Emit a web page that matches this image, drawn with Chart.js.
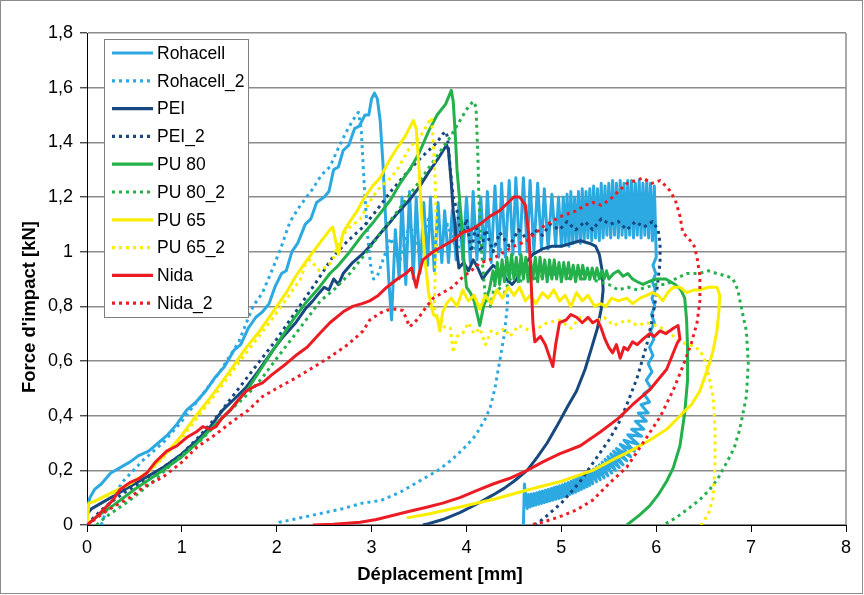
<!DOCTYPE html>
<html>
<head>
<meta charset="utf-8">
<script src="https://cdn.jsdelivr.net/npm/chart.js@4.4.0/dist/chart.umd.min.js"></script>
<style>
  html, body { margin: 0; padding: 0; background: #fff; }
</style>
</head>
<body>
<canvas id="myChart" width="864" height="595"></canvas>
<script>
// tick values
const xTicks = [0, 1, 2, 3, 4, 5, 6, 7, 8];
const yTicks = [0, 0.2, 0.4, 0.6, 0.8, 1, 1.2, 1.4, 1.6, 1.8];
const xTitle = 'Déplacement [mm]';
const yTitle = "Force d'impact [kN]";

const seriesNames = ['Rohacell', 'Rohacell_2', 'PEI', 'PEI_2', 'PU 80', 'PU 80_2', 'PU 65', 'PU 65_2', 'Nida', 'Nida_2'];
const seriesColors = ['#2CA9E1', '#2CA9E1', '#17487F', '#17487F', '#24B04A', '#24B04A', '#FAED00', '#FAED00', '#EC1C24', '#EC1C24'];
const seriesDotted = [false, true, false, true, false, true, false, true, false, true];

// [displacement mm, force kN]
const rohacell = [
  [0,0.05],[0.03,0.1],[0.08,0.13],[0.15,0.15],[0.25,0.19],[0.35,0.21],[0.45,0.23],[0.55,0.255],[0.65,0.27],
  [0.75,0.3],[0.85,0.33],[0.95,0.37],[1.05,0.42],[1.15,0.45],[1.25,0.49],[1.35,0.54],[1.45,0.58],[1.55,0.64],
  [1.62,0.66],[1.7,0.72],[1.78,0.76],[1.85,0.78],[1.92,0.81],[1.98,0.87],[2.05,0.92],[2.1,0.93],[2.16,1.0],
  [2.22,1.03],[2.3,1.1],[2.36,1.12],[2.42,1.18],[2.5,1.2],[2.55,1.22],[2.6,1.3],[2.65,1.31],[2.7,1.37],
  [2.76,1.39],[2.82,1.45],[2.87,1.46],[2.93,1.5],[2.97,1.5],[3.0,1.56],[3.03,1.58],[3.06,1.56],[3.09,1.48],
  [3.12,1.32],[3.15,1.1],[3.18,0.9],[3.21,0.75],
  [3.25,1.08],[3.29,0.9],[3.32,1.2],[3.36,0.88],[3.4,1.22],[3.44,0.9],[3.47,1.2],[3.51,0.92],[3.55,1.18],
  [3.59,0.95],[3.62,1.2],[3.66,0.93],[3.7,1.18],[3.74,0.96],[3.77,1.15],[3.81,0.96],[3.85,1.15],[3.89,0.97],
  [3.92,1.18],[3.96,0.97],[4.0,1.2],[4.04,0.96],[4.07,1.22],[4.11,0.97],[4.15,1.2],[4.19,0.97],[4.22,1.22],
  [4.26,0.96],[4.3,1.24],[4.34,0.98],[4.37,1.25],[4.41,0.98],[4.45,1.26],[4.49,0.99],[4.52,1.27],[4.56,0.99],
  [4.6,1.27],[4.64,1.0],[4.67,1.26],[4.71,1.0],[4.75,1.25],[4.79,1.01],[4.82,1.23],[4.86,1.01],[4.9,1.21],
  [4.94,1.02],[4.97,1.2],
  [5.0,1.02],[5.02,1.2],[5.04,1.03],[5.06,1.21],[5.08,1.02],[5.1,1.22],[5.12,1.03],[5.14,1.2],[5.16,1.04],
  [5.18,1.22],[5.2,1.03],[5.22,1.23],[5.24,1.04],[5.26,1.22],[5.28,1.05],[5.3,1.23],[5.32,1.04],[5.34,1.24],
  [5.36,1.05],[5.38,1.23],[5.4,1.04],[5.42,1.25],[5.44,1.05],[5.46,1.24],[5.48,1.06],[5.5,1.25],[5.52,1.05],
  [5.54,1.26],[5.56,1.06],[5.58,1.25],[5.6,1.05],[5.62,1.26],[5.64,1.06],[5.66,1.25],[5.68,1.05],[5.7,1.26],
  [5.72,1.06],[5.74,1.26],[5.76,1.05],[5.78,1.25],[5.8,1.06],[5.82,1.26],[5.84,1.05],[5.86,1.25],[5.88,1.06],
  [5.9,1.26],[5.92,1.05],[5.94,1.25],[5.96,1.04],[5.98,1.24],
  [6.0,0.98],[5.965,0.95],[5.995,0.92],[5.96,0.89],[5.99,0.86],[5.955,0.83],[5.985,0.8],[5.95,0.77],[5.98,0.74],
  [5.94,0.71],[5.975,0.68],[5.93,0.65],[5.965,0.62],[5.915,0.59],[5.955,0.56],[5.895,0.53],[5.945,0.5],[5.87,0.48],
  [5.93,0.45],[5.84,0.44],[5.915,0.41],[5.81,0.41],[5.895,0.38],[5.78,0.38],[5.87,0.35],[5.74,0.35],[5.845,0.325],
  [5.7,0.33],[5.81,0.295],[5.66,0.31],[5.77,0.27],
  [5.62,0.295],[5.73,0.25],[5.58,0.28],[5.69,0.235],[5.55,0.27],[5.65,0.22],[5.52,0.26],[5.61,0.21],[5.49,0.25],
  [5.57,0.2],[5.46,0.24],[5.53,0.19],[5.43,0.23],[5.49,0.18],[5.4,0.22],[5.45,0.172],[5.37,0.213],[5.41,0.165],
  [5.34,0.205],[5.37,0.158],[5.31,0.198],[5.33,0.151],[5.28,0.191],[5.3,0.145],[5.25,0.185],[5.27,0.14],
  [5.22,0.18],[5.24,0.135],[5.19,0.175],[5.21,0.13],[5.16,0.17],[5.18,0.125],[5.13,0.165],[5.15,0.12],[5.1,0.16],
  [5.12,0.116],[5.07,0.155],[5.09,0.112],[5.04,0.151],[5.06,0.108],[5.01,0.147],[5.03,0.104],[4.98,0.143],
  [5.0,0.1],[4.95,0.14],[4.97,0.097],[4.92,0.137],[4.94,0.094],[4.89,0.133],[4.91,0.091],[4.86,0.13],[4.88,0.088],
  [4.83,0.127],[4.85,0.085],[4.8,0.124],[4.82,0.082],[4.77,0.121],[4.79,0.079],[4.74,0.118],[4.76,0.076],
  [4.71,0.115],[4.73,0.073],[4.68,0.113],[4.7,0.07],[4.65,0.111],[4.67,0.066],[4.63,0.11],[4.64,0.06],[4.61,0.15],[4.6,0]
];
const rohacell2 = [
  [0.15,0],[0.2,0.05],[0.27,0.1],[0.38,0.16],[0.6,0.24],[0.8,0.3],[1.0,0.38],[1.2,0.47],[1.4,0.56],[1.6,0.67],
  [1.75,0.8],[1.85,0.85],[1.96,0.94],[2.05,1.02],[2.14,1.11],[2.25,1.17],[2.38,1.23],[2.47,1.28],[2.56,1.31],
  [2.65,1.38],[2.75,1.45],[2.82,1.49],[2.86,1.51],[2.89,1.45],[2.91,1.32],[2.93,1.2],[2.96,1.05],[2.99,0.95],
  [3.02,0.9],[3.06,0.91],[3.1,0.95],[3.2,1.05],[3.3,0.97],[3.4,1.1],[3.5,1.0],[3.6,1.12],[3.7,1.0],[3.8,1.1],
  [3.9,1.0],[4.0,1.1],[4.1,1.0],[4.2,1.1],[4.3,1.02],[4.4,1.0],[4.44,0.93],[4.43,0.8],[4.4,0.7],[4.35,0.6],
  [4.3,0.5],[4.25,0.43],[4.2,0.39],[4.1,0.33],[4.0,0.29],[3.85,0.24],[3.7,0.2],[3.5,0.16],[3.3,0.12],[3.1,0.09],
  [2.9,0.08],[2.7,0.06],[2.5,0.045],[2.3,0.03],[2.1,0.015],[2.03,0.01],[2.0,0]
];
const pei = [
  [0,0.04],[0.05,0.06],[0.15,0.08],[0.3,0.11],[0.45,0.14],[0.6,0.17],[0.8,0.21],[1.0,0.26],[1.16,0.31],[1.3,0.36],
  [1.43,0.42],[1.55,0.46],[1.68,0.505],[1.8,0.56],[1.96,0.64],[2.07,0.69],[2.2,0.74],[2.3,0.79],[2.38,0.82],
  [2.45,0.85],[2.5,0.87],[2.55,0.86],[2.6,0.9],[2.65,0.88],[2.7,0.92],[2.8,0.96],[2.9,0.99],[2.98,1.02],[3.1,1.07],
  [3.2,1.11],[3.27,1.14],[3.4,1.19],[3.51,1.24],[3.6,1.29],[3.7,1.34],[3.79,1.39],[3.81,1.37],[3.84,1.25],
  [3.86,1.15],[3.88,1.1],[3.9,1.0],[3.92,0.94],[3.97,0.96],[4.02,0.93],[4.07,0.97],[4.12,0.94],[4.17,0.9],
  [4.21,0.92],[4.28,0.95],[4.35,0.93],[4.42,0.9],[4.48,0.88],[4.53,0.9],[4.6,0.95],[4.65,0.97],[4.7,0.99],
  [4.8,1.01],[4.9,1.02],[5.0,1.02],[5.1,1.03],[5.2,1.04],[5.3,1.03],[5.36,1.02],[5.4,0.99],[5.43,0.93],
  [5.44,0.86],[5.42,0.79],[5.38,0.72],[5.32,0.65],[5.25,0.57],[5.16,0.49],[5.06,0.43],[4.95,0.36],[4.85,0.3],
  [4.75,0.25],[4.64,0.2],[4.5,0.16],[4.4,0.135],[4.28,0.11],[4.1,0.075],[3.93,0.045],[3.75,0.02],[3.6,0.005],[3.54,0]
];
const pei2 = [
  [0.05,0.02],[0.2,0.07],[0.4,0.12],[0.6,0.16],[0.8,0.21],[1.0,0.26],[1.2,0.33],[1.4,0.41],[1.6,0.5],[1.8,0.59],
  [2.0,0.68],[2.2,0.78],[2.4,0.88],[2.59,0.98],[2.75,1.04],[2.91,1.09],[3.05,1.15],[3.2,1.22],[3.3,1.26],[3.4,1.3],
  [3.51,1.34],[3.6,1.37],[3.69,1.4],[3.75,1.43],[3.78,1.44],[3.8,1.42],[3.83,1.3],[3.86,1.2],[3.9,1.15],[3.95,1.05],
  [4.0,1.12],[4.05,1.0],[4.1,1.1],[4.15,1.0],[4.2,1.08],[4.28,1.0],[4.35,1.07],[4.45,1.02],[4.55,1.08],[4.65,1.04],
  [4.72,1.08],[4.8,1.06],[4.88,1.1],[4.98,1.08],[5.06,1.11],[5.15,1.08],[5.25,1.11],[5.33,1.08],[5.42,1.12],
  [5.51,1.1],[5.6,1.11],[5.69,1.08],[5.78,1.11],[5.87,1.09],[5.96,1.11],[6.02,1.08],[6.04,1.03],[6.04,0.96],
  [6.0,0.84],[5.95,0.74],[5.9,0.66],[5.8,0.54],[5.69,0.44],[5.6,0.37],[5.5,0.31],[5.4,0.26],[5.3,0.21],[5.2,0.16],
  [5.1,0.12],[5.0,0.08],[4.9,0.05],[4.8,0.02],[4.72,0]
];
const pu80 = [
  [0,0],[0.1,0.03],[0.27,0.07],[0.5,0.13],[0.8,0.2],[1.0,0.25],[1.16,0.3],[1.3,0.35],[1.51,0.42],[1.7,0.5],
  [1.85,0.58],[2.0,0.66],[2.17,0.75],[2.3,0.81],[2.45,0.87],[2.56,0.92],[2.65,0.95],[2.77,1.0],[2.9,1.06],[3.0,1.1],
  [3.09,1.14],[3.2,1.19],[3.3,1.25],[3.4,1.3],[3.5,1.36],[3.6,1.44],[3.69,1.5],[3.78,1.54],[3.84,1.59],[3.86,1.55],
  [3.88,1.44],[3.9,1.3],[3.92,1.22],[3.95,1.1],[3.97,0.98],[4.0,0.87],[4.04,0.85],[4.08,0.82],[4.12,0.76],[4.14,0.73],
  [4.18,0.8],[4.24,0.86],[4.28,0.93],[4.3,0.88],[4.325,0.96],[4.35,0.88],[4.375,0.97],[4.4,0.89],[4.425,0.98],
  [4.45,0.9],[4.475,0.99],[4.5,0.9],[4.525,0.98],[4.55,0.89],[4.575,0.99],[4.6,0.9],[4.625,0.98],[4.65,0.89],
  [4.675,0.97],[4.7,0.9],[4.725,0.98],[4.75,0.89],[4.775,0.98],[4.8,0.9],[4.825,0.97],[4.85,0.89],[4.875,0.97],
  [4.9,0.9],[4.925,0.97],[4.95,0.9],[4.975,0.96],[5.0,0.89],[5.025,0.96],[5.05,0.9],[5.075,0.96],[5.1,0.9],
  [5.125,0.95],[5.15,0.89],[5.175,0.95],[5.2,0.9],[5.225,0.95],[5.25,0.9],[5.275,0.94],[5.3,0.9],[5.325,0.94],
  [5.35,0.9],[5.375,0.94],[5.4,0.9],[5.425,0.93],[5.45,0.9],[5.475,0.93],[5.5,0.9],[5.55,0.92],[5.6,0.93],
  [5.65,0.91],[5.7,0.92],[5.75,0.9],[5.8,0.89],[5.86,0.88],[5.92,0.89],[6.0,0.9],[6.1,0.9],[6.2,0.88],[6.26,0.86],
  [6.3,0.83],[6.32,0.75],[6.33,0.65],[6.33,0.53],[6.3,0.41],[6.25,0.29],[6.18,0.21],[6.11,0.16],[6.02,0.11],
  [5.93,0.07],[5.82,0.035],[5.69,0]
];
const pu80b = [
  [0.1,0],[0.2,0.03],[0.45,0.09],[0.7,0.16],[0.98,0.25],[1.2,0.31],[1.51,0.42],[1.7,0.48],[1.85,0.54],[2.0,0.61],
  [2.2,0.7],[2.46,0.82],[2.6,0.86],[2.77,0.92],[2.95,1.0],[3.12,1.08],[3.3,1.16],[3.51,1.26],[3.65,1.33],[3.83,1.42],
  [4.0,1.52],[4.07,1.55],[4.1,1.53],[4.12,1.35],[4.13,1.2],[4.15,1.05],[4.17,0.95],[4.2,0.83],[4.25,0.8],[4.3,0.88],
  [4.4,0.85],[4.5,0.93],[4.56,0.88],[4.6,0.92],[4.7,0.9],[4.9,0.92],[5.1,0.9],[5.3,0.9],[5.5,0.88],[5.6,0.86],
  [5.7,0.87],[5.8,0.86],[5.9,0.87],[6.0,0.88],[6.11,0.88],[6.2,0.9],[6.32,0.92],[6.45,0.92],[6.55,0.93],[6.64,0.92],
  [6.75,0.91],[6.81,0.9],[6.86,0.86],[6.9,0.79],[6.95,0.71],[6.97,0.59],[6.95,0.47],[6.88,0.35],[6.82,0.28],
  [6.74,0.227],[6.65,0.17],[6.56,0.128],[6.45,0.09],[6.32,0.055],[6.2,0.025],[6.11,0.007],[6.08,0]
];
const pu65 = [
  [0,0],[0.02,0.08],[0.1,0.09],[0.27,0.12],[0.45,0.15],[0.63,0.19],[0.8,0.25],[0.98,0.32],[1.15,0.4],[1.33,0.48],
  [1.5,0.56],[1.68,0.65],[1.82,0.71],[1.96,0.78],[2.1,0.85],[2.2,0.91],[2.32,0.97],[2.45,1.03],[2.56,1.08],[2.59,1.09],
  [2.62,1.04],[2.65,0.99],[2.7,1.07],[2.77,1.11],[2.85,1.15],[2.91,1.19],[3.01,1.24],[3.09,1.27],[3.18,1.33],
  [3.27,1.38],[3.35,1.42],[3.44,1.48],[3.47,1.45],[3.5,1.3],[3.53,1.12],[3.56,0.98],[3.6,0.85],[3.65,0.77],
  [3.69,0.76],[3.72,0.71],[3.75,0.78],[3.79,0.81],[3.84,0.83],[3.9,0.8],[3.96,0.86],[4.02,0.82],[4.08,0.84],
  [4.14,0.79],[4.2,0.84],[4.26,0.81],[4.32,0.86],[4.38,0.83],[4.44,0.87],[4.5,0.84],[4.56,0.87],[4.62,0.82],
  [4.67,0.84],[4.73,0.81],[4.8,0.85],[4.86,0.83],[4.92,0.86],[4.98,0.82],[5.04,0.84],[5.1,0.8],[5.16,0.85],
  [5.22,0.82],[5.28,0.84],[5.35,0.8],[5.41,0.81],[5.47,0.8],[5.53,0.83],[5.6,0.82],[5.69,0.83],[5.75,0.81],
  [5.83,0.83],[5.9,0.84],[5.96,0.85],[6.02,0.84],[6.07,0.82],[6.12,0.85],[6.18,0.87],[6.25,0.87],[6.32,0.85],
  [6.4,0.86],[6.46,0.86],[6.55,0.87],[6.64,0.87],[6.67,0.84],[6.66,0.78],[6.64,0.71],[6.6,0.64],[6.56,0.59],
  [6.46,0.49],[6.37,0.44],[6.28,0.41],[6.11,0.35],[5.93,0.31],[5.75,0.275],[5.55,0.24],[5.33,0.2],[5.0,0.16],
  [4.64,0.128],[4.3,0.095],[3.93,0.066],[3.6,0.04],[3.37,0.026]
];
const pu65b = [
  [0,0.07],[0.1,0.09],[0.3,0.12],[0.5,0.16],[0.7,0.21],[0.98,0.31],[1.2,0.41],[1.4,0.5],[1.68,0.63],[1.9,0.73],
  [2.05,0.8],[2.15,0.85],[2.25,0.9],[2.3,0.95],[2.35,0.97],[2.45,0.93],[2.55,0.95],[2.6,0.98],[2.65,1.03],[2.74,1.08],
  [2.88,1.12],[3.01,1.2],[3.1,1.24],[3.2,1.27],[3.27,1.3],[3.4,1.38],[3.51,1.42],[3.58,1.46],[3.63,1.49],[3.65,1.4],
  [3.67,1.26],[3.68,1.1],[3.67,0.92],[3.66,0.8],[3.7,0.75],[3.78,0.72],[3.83,0.72],[3.86,0.63],[3.9,0.69],[3.96,0.7],
  [4.02,0.74],[4.08,0.7],[4.14,0.72],[4.2,0.66],[4.26,0.71],[4.32,0.7],[4.4,0.72],[4.46,0.69],[4.55,0.73],[4.67,0.71],
  [4.75,0.72],[4.85,0.74],[4.98,0.75],[5.1,0.72],[5.2,0.76],[5.33,0.74],[5.45,0.76],[5.55,0.73],[5.69,0.75],
  [5.8,0.73],[5.9,0.74],[6.04,0.725],[6.15,0.7],[6.25,0.67],[6.35,0.66],[6.46,0.64],[6.53,0.59],[6.58,0.5],
  [6.6,0.47],[6.62,0.35],[6.62,0.23],[6.6,0.1],[6.55,0.04],[6.47,0]
];
const nida = [
  [0,0],[0.1,0.03],[0.27,0.09],[0.35,0.13],[0.45,0.155],[0.55,0.17],[0.63,0.19],[0.72,0.23],[0.84,0.27],[0.95,0.29],
  [1.05,0.32],[1.15,0.34],[1.22,0.36],[1.3,0.35],[1.36,0.36],[1.42,0.39],[1.51,0.42],[1.6,0.46],[1.68,0.49],
  [1.78,0.51],[1.85,0.52],[1.95,0.55],[2.1,0.59],[2.2,0.62],[2.32,0.65],[2.45,0.7],[2.56,0.74],[2.7,0.78],[2.8,0.8],
  [2.9,0.81],[2.98,0.82],[3.07,0.84],[3.16,0.87],[3.27,0.9],[3.36,0.92],[3.42,0.94],[3.47,0.87],[3.5,0.92],
  [3.54,0.97],[3.65,1.0],[3.75,1.02],[3.85,1.04],[3.96,1.07],[4.05,1.08],[4.14,1.1],[4.25,1.13],[4.35,1.15],
  [4.44,1.18],[4.5,1.2],[4.56,1.2],[4.62,1.17],[4.66,1.05],[4.68,0.9],[4.7,0.74],[4.72,0.67],[4.78,0.69],
  [4.83,0.66],[4.87,0.62],[4.91,0.58],[4.94,0.66],[4.98,0.74],[5.05,0.75],[5.1,0.77],[5.16,0.76],[5.22,0.74],
  [5.28,0.76],[5.33,0.74],[5.38,0.75],[5.42,0.72],[5.46,0.68],[5.5,0.65],[5.54,0.63],[5.58,0.66],[5.62,0.61],
  [5.66,0.65],[5.7,0.64],[5.75,0.67],[5.8,0.66],[5.86,0.68],[5.93,0.7],[5.98,0.69],[6.04,0.71],[6.1,0.7],
  [6.18,0.72],[6.23,0.73],[6.25,0.68],[6.22,0.665],[6.11,0.57],[5.93,0.494],[5.75,0.44],[5.6,0.39],[5.41,0.34],
  [5.2,0.29],[4.98,0.26],[4.8,0.23],[4.64,0.2],[4.45,0.17],[4.28,0.15],[4.1,0.125],[3.93,0.1],[3.75,0.08],
  [3.58,0.065],[3.4,0.05],[3.22,0.035],[3.05,0.02],[2.88,0.01],[2.6,0.003],[2.38,0]
];
const nida2 = [
  [0,0],[0.2,0.05],[0.45,0.1],[0.6,0.14],[0.8,0.175],[1.0,0.23],[1.16,0.285],[1.35,0.33],[1.51,0.373],[1.7,0.42],
  [1.85,0.47],[2.0,0.5],[2.21,0.54],[2.4,0.58],[2.56,0.615],[2.75,0.66],[2.91,0.71],[2.98,0.75],[3.09,0.775],
  [3.16,0.786],[3.25,0.79],[3.33,0.785],[3.4,0.725],[3.45,0.74],[3.5,0.76],[3.58,0.8],[3.65,0.83],[3.75,0.85],
  [3.85,0.87],[3.96,0.907],[4.05,0.93],[4.14,0.958],[4.28,0.975],[4.4,1.0],[4.5,1.02],[4.64,1.04],[4.8,1.09],
  [4.98,1.127],[5.16,1.15],[5.25,1.17],[5.33,1.18],[5.42,1.17],[5.51,1.19],[5.6,1.22],[5.69,1.25],[5.78,1.26],
  [5.86,1.27],[5.95,1.25],[6.04,1.26],[6.1,1.24],[6.14,1.225],[6.2,1.19],[6.25,1.13],[6.28,1.07],[6.32,1.055],
  [6.36,1.04],[6.4,1.02],[6.43,0.98],[6.46,0.91],[6.46,0.82],[6.43,0.74],[6.37,0.665],[6.28,0.58],[6.18,0.494],
  [6.04,0.395],[5.86,0.3],[5.69,0.212],[5.51,0.154],[5.33,0.091],[5.16,0.055],[4.98,0.03],[4.8,0.01],[4.67,0]
];

const seriesData = [rohacell, rohacell2, pei, pei2, pu80, pu80b, pu65, pu65b, nida, nida2];

const fontFamily = '"Liberation Sans", Arial, sans-serif';
Chart.defaults.font.family = fontFamily;
Chart.defaults.color = '#000';

const fmt = v => String(Math.round(v * 10) / 10).replace('.', ',');

// legend box drawn inside the plot, like the Excel one
const legendBox = {
  id: 'legendBox',
  afterDatasetsDraw(chart) {
    const ctx = chart.ctx;
    ctx.save();
    ctx.fillStyle = '#fff';
    ctx.fillRect(104, 39, 144, 278);
    ctx.strokeStyle = '#7f7f7f';
    ctx.lineWidth = 1;
    ctx.strokeRect(104.5, 39.5, 144, 278);
    ctx.font = '17.5px ' + fontFamily;
    ctx.textBaseline = 'middle';
    chart.data.datasets.forEach((ds, i) => {
      const y = 53 + i * 27.8;
      ctx.strokeStyle = ds.borderColor;
      ctx.lineWidth = 3.2;
      ctx.setLineDash(ds.borderDash);
      ctx.beginPath();
      ctx.moveTo(112, y);
      ctx.lineTo(153, y);
      ctx.stroke();
      ctx.setLineDash([]);
      ctx.fillStyle = '#000';
      ctx.fillText(ds.label, 157, y + 1);
    });
    ctx.restore();
  }
};

// outer frame, right border of the plot, axis titles
const frame = {
  id: 'frame',
  beforeDatasetsDraw(chart) {
    const ctx = chart.ctx;
    const a = chart.chartArea;
    ctx.save();
    ctx.strokeStyle = '#8c8c8c';
    ctx.lineWidth = 1.5;
    ctx.beginPath();
    ctx.moveTo(a.right, a.top);
    ctx.lineTo(a.right, a.bottom);
    ctx.stroke();
    ctx.restore();
  },
  afterDraw(chart) {
    const ctx = chart.ctx;
    ctx.save();
    ctx.strokeStyle = '#8c8c8c';
    ctx.lineWidth = 1;
    ctx.strokeRect(0.5, 0.5, 862, 593);
    ctx.fillStyle = '#000';
    ctx.font = 'bold 18.5px ' + fontFamily;
    ctx.textAlign = 'center';
    ctx.textBaseline = 'middle';
    ctx.fillText(xTitle, 440, 575);
    ctx.translate(30, 307);
    ctx.rotate(-Math.PI / 2);
    ctx.fillText(yTitle, 0, 0);
    ctx.restore();
  }
};

new Chart(document.getElementById('myChart'), {
  type: 'scatter',
  data: {
    datasets: seriesData.map((d, i) => ({
      label: seriesNames[i],
      data: d,
      showLine: true,
      borderColor: seriesColors[i],
      backgroundColor: seriesColors[i],
      borderWidth: 3,
      borderDash: seriesDotted[i] ? [3, 4] : [],
      borderJoinStyle: 'round',
      pointRadius: 0,
      tension: 0,
      order: seriesNames.length - i
    }))
  },
  options: {
    responsive: false,
    animation: false,
    devicePixelRatio: 1,
    layout: { padding: { top: 33, right: 18, left: 0, bottom: 0 } },
    plugins: {
      legend: { display: false },
      tooltip: { enabled: false }
    },
    scales: {
      x: {
        type: 'linear',
        min: 0,
        max: 8,
        afterBuildTicks: s => { s.ticks = xTicks.map(v => ({ value: v })); },
        afterFit: s => { s.height = 70; },
        ticks: { font: { size: 18 }, color: '#000', padding: 5 },
        grid: { drawOnChartArea: false, tickLength: 7, tickColor: '#000', tickWidth: 1 },
        border: { color: '#000', width: 1 }
      },
      y: {
        min: 0,
        max: 1.8,
        afterBuildTicks: s => { s.ticks = yTicks.map(v => ({ value: v })); },
        afterFit: s => { s.width = 87; },
        ticks: { font: { size: 18 }, color: '#000', padding: 7, callback: v => fmt(v) },
        grid: { color: '#8c8c8c', lineWidth: 1.6, tickLength: 7, tickColor: '#000', tickWidth: 1 },
        border: { color: '#000', width: 1 }
      }
    }
  },
  plugins: [frame, legendBox]
});
</script>
</body>
</html>
